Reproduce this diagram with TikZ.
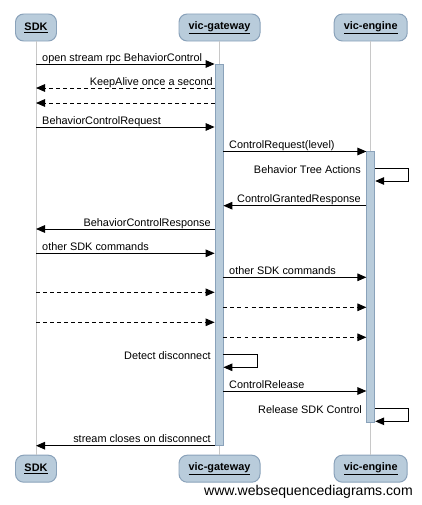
\documentclass[tikz,border=0pt]{standalone}
\usepackage{fontspec}
\setmainfont{Liberation Sans}
\usetikzlibrary{positioning, arrows.meta}
\definecolor{actorfill}{RGB}{185,204,219}
\definecolor{actorline}{RGB}{138,162,186}
\definecolor{lifegray}{RGB}{200,200,200}
\tikzset{
	actor/.style={
		draw=actorline,
		fill=actorfill,
		line width=0.85pt,
		rounded corners=7pt,
		minimum height=0.81cm,
		inner sep=0pt,
		font=\bfseries\fontsize{9.3}{11}\selectfont
	},
	bar/.style={
		draw=actorline,
		fill=actorfill,
		line width=0.7pt,
		minimum width=0.24cm,
		inner sep=0pt,
		anchor=north
	},
	lifeline/.style={
		draw=lifegray,
		line width=0.85pt
	},
	msg/.style={
		draw=black,
		line width=0.85pt,
		-{Triangle[length=7.7pt,width=6.5pt]}
	},
	reply/.style={
		msg,
		dash pattern=on 3.4pt off 2.6pt
	},
	lbl/.style={
		inner sep=0pt,
		font=\fontsize{9.3}{11}\selectfont
	},
}

\begin{document}
\begin{tikzpicture}[x=0.03cm, y=-0.03cm]
\useasboundingbox (0,0) rectangle (422,505);

% Participants
\node[actor, minimum width=1.23cm] (SDKTop) at (36,27.5) {\underline{SDK}};
\node[actor, minimum width=2.43cm] (GwTop) at (219.5,27.5) {\underline{vic-gateway}};
\node[actor, minimum width=2.19cm] (EnTop) at (370.7,27.5) {\underline{vic-engine}};
\node[actor, minimum width=1.23cm] (SDKBot) at (36,468.7) {\underline{SDK}};
\node[actor, minimum width=2.43cm] (GwBot) at (219.5,468.7) {\underline{vic-gateway}};
\node[actor, minimum width=2.19cm] (EnBot) at (370.7,468.7) {\underline{vic-engine}};

% Lifelines
\draw[lifeline] (SDKTop) -- (SDKBot);
\draw[lifeline] (GwTop) -- (GwBot);
\draw[lifeline] (EnTop) -- (EnBot);

% Activations
\node[bar, minimum height=11.43cm] (GwBar) at (219,64) {};
\node[bar, minimum height=8.12cm] (EnBar) at (370.8,151) {};

% Messages SDK <-> gateway
\draw[msg] (SDKTop |- 0,64) -- (GwBar.west |- 0,64);
\node[lbl, anchor=base west] (M1) at (42,61) {open stream rpc BehaviorControl};
\draw[reply] (GwBar.west |- 0,88) -- (SDKTop |- 0,88);
\node[lbl, anchor=base east] (M2) at (213,85) {KeepAlive once a second};
\draw[reply] (GwBar.west |- 0,103) -- (SDKTop |- 0,103);
\draw[msg] (SDKTop |- 0,127) -- (GwBar.west |- 0,127);
\node[lbl, anchor=base west] (M3) at (42,124) {BehaviorControlRequest};

% Control request
\draw[msg] (GwBar.east |- 0,151.5) -- (EnBar.west |- 0,151.5);
\node[lbl, anchor=base west] (M4) at (229,148.5) {ControlRequest(level)};
\draw[msg, rounded corners=0pt] (EnBar.east |- 0,168.3) -- (408,168.3) -- (408,181) -- (EnBar.east |- 0,181);
\node[lbl, anchor=base east] (M5) at (361,173) {Behavior Tree Actions};
\draw[msg] (EnBar.west |- 0,205.7) -- (GwBar.east |- 0,205.7);
\node[lbl, anchor=base east] (M6) at (361,202.7) {ControlGrantedResponse};
\draw[msg] (GwBar.west |- 0,229) -- (SDKTop |- 0,229);
\node[lbl, anchor=base east] (M7) at (211,226) {BehaviorControlResponse};

% Other commands
\draw[msg] (SDKTop |- 0,253.3) -- (GwBar.west |- 0,253.3);
\node[lbl, anchor=base west] (M8) at (42,250.3) {other SDK commands};
\draw[msg] (GwBar.east |- 0,277.3) -- (EnBar.west |- 0,277.3);
\node[lbl, anchor=base west] (M9) at (229,274.3) {other SDK commands};
\draw[reply] (SDKTop |- 0,292.3) -- (GwBar.west |- 0,292.3);
\draw[reply] (GwBar.east |- 0,307.3) -- (EnBar.west |- 0,307.3);
\draw[reply] (SDKTop |- 0,322.3) -- (GwBar.west |- 0,322.3);
\draw[reply] (GwBar.east |- 0,337.3) -- (EnBar.west |- 0,337.3);

% Disconnect
\draw[msg] (GwBar.east |- 0,354.7) -- (257,354.7) -- (257,367.3) -- (GwBar.east |- 0,367.3);
\node[lbl, anchor=base east] (M10) at (211,359) {Detect disconnect};
\draw[msg] (GwBar.east |- 0,391) -- (EnBar.west |- 0,391);
\node[lbl, anchor=base west] (M11) at (229,388) {ControlRelease};
\draw[msg] (EnBar.east |- 0,408.3) -- (408,408.3) -- (408,421.3) -- (EnBar.east |- 0,421.3);
\node[lbl, anchor=base east] (M12) at (362,413.3) {Release SDK Control};
\draw[msg] (GwBar.west |- 0,445.7) -- (SDKTop |- 0,445.7);
\node[lbl, anchor=base east] (M13) at (211,442.7) {stream closes on disconnect};

% Watermark
\node[inner sep=0pt, anchor=base east, font=\fontsize{12}{14}\selectfont] (Mark) at (413,495) {www.websequencediagrams.com};

\end{tikzpicture}
\end{document}
